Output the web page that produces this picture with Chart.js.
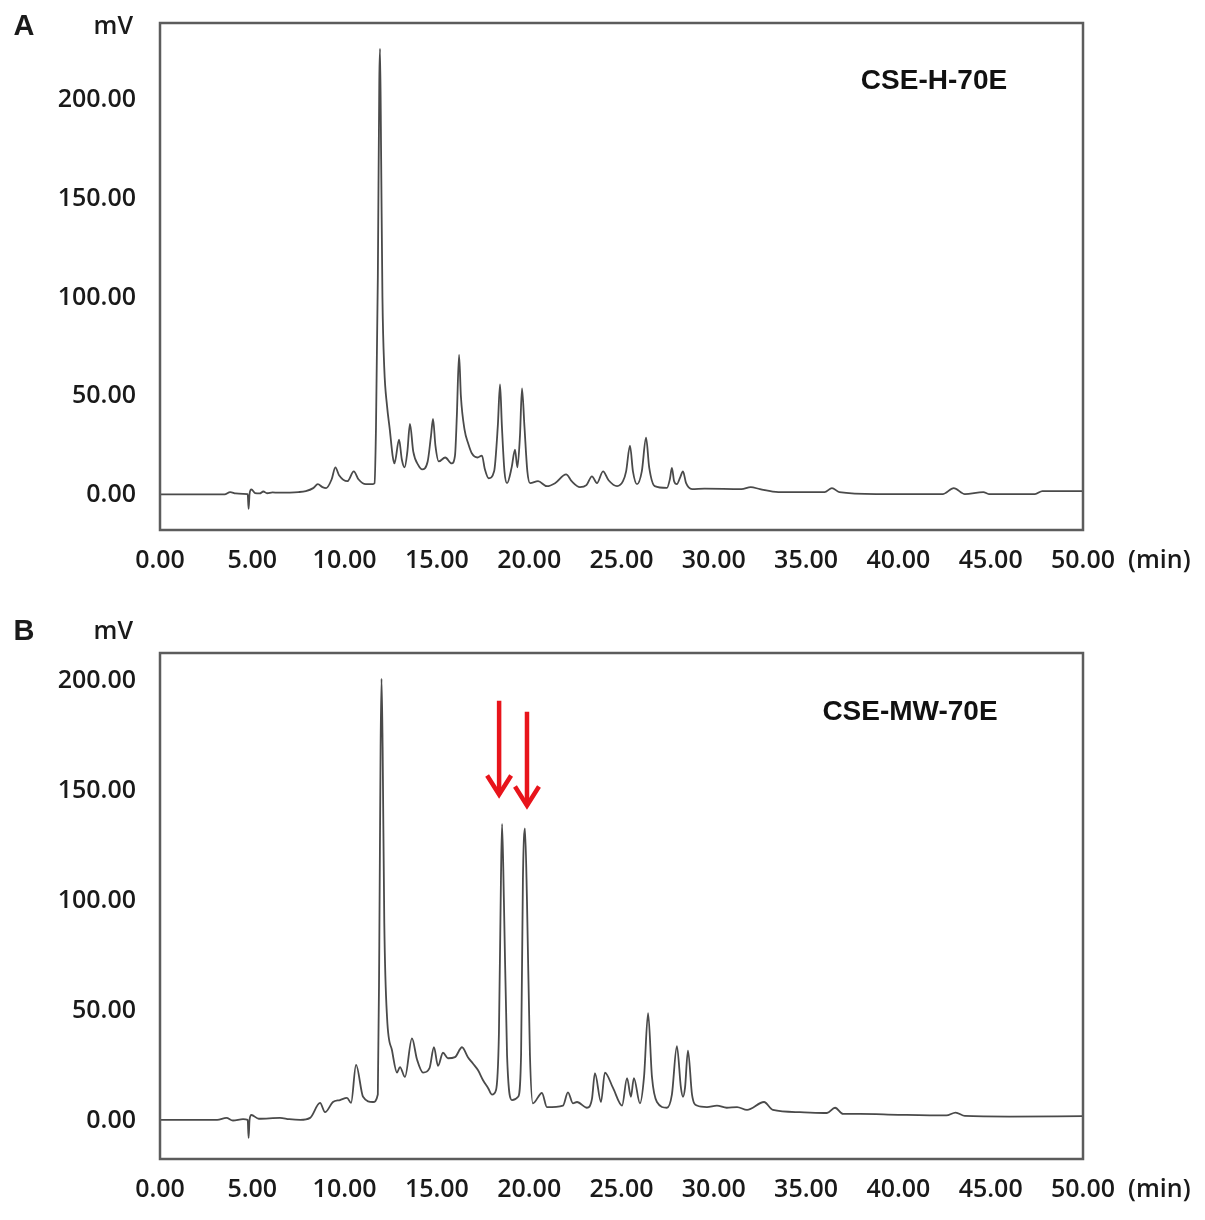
<!DOCTYPE html>
<html>
<head>
<meta charset="utf-8">
<script src="https://cdn.jsdelivr.net/npm/chart.js@4.4.0/dist/chart.umd.min.js"></script>
<style>
html, body { margin: 0; padding: 0; background: #fff; }
.panel { position: absolute; left: 0; width: 1205px; }
#panelA { top: 0; height: 600px; }
#panelB { top: 600px; height: 620px; }
</style>
</head>
<body>
<div class="panel" id="panelA"><canvas id="chartA"></canvas></div>
<div class="panel" id="panelB"><canvas id="chartB"></canvas></div>
<script>
// ejes
const ticksX = [0, 5, 10, 15, 20, 25, 30, 35, 40, 45, 50];
const ticksY = [0, 50, 100, 150, 200];

// A: CSE-H-70E (min, mV)
const tiemposA = [0, 3.5, 3.8, 4.1, 4.5, 4.75, 4.8, 4.85, 4.95, 5.15, 5.4, 5.6, 5.8, 6.1, 6.4, 7.5, 7.9, 8.3, 8.55, 8.8, 9.0, 9.3, 9.5, 9.7,
  10.15, 10.5, 10.75, 11.15, 11.5, 11.62, 11.7, 11.8, 11.88, 11.92, 11.98, 12.05, 12.15, 12.3, 12.45, 12.6, 12.7,
  12.95, 13.1, 13.25, 13.4, 13.54, 13.72, 14.0, 14.2, 14.5, 14.68, 14.79, 14.92, 15.1, 15.45, 15.8, 15.98, 16.08, 16.2, 16.3, 16.5, 16.7, 16.9,
  17.2, 17.44, 17.6, 17.8, 18.1, 18.3, 18.42, 18.52, 18.66, 18.8, 19.05, 19.23, 19.36, 19.5, 19.61, 19.74, 19.9, 20.05,
  20.48, 20.96, 21.4, 22.0, 22.3, 22.75, 23.1, 23.4, 23.67, 24.0, 24.3, 24.76, 25.08, 25.25, 25.46, 25.62, 25.84, 26.1, 26.33, 26.5, 26.8,
  27.46, 27.62, 27.73, 27.85, 28.0, 28.18, 28.33, 28.5, 28.82, 29.5, 31.5, 32.0, 32.5, 33.5, 36.0, 36.4, 36.8, 38.8, 42.4, 43.0, 43.6, 44.6, 44.9, 47.4, 47.8, 50];
const senalA = [0.3, 0.3, 1.5, 0.8, 0.6, 0.5, -7, 0.5, 2.8, 1.0, 0.8, 1.8, 0.9, 1.3, 1.2, 1.5, 2, 3.5, 5.5, 4, 3.5, 8, 14, 10,
  7, 12, 8, 5.5, 5.5, 6, 34, 110, 210, 226, 170, 100, 64, 45, 33, 20, 16,
  28, 18, 14, 22, 36, 22, 15, 13, 17, 30, 38.5, 25, 17, 19, 16, 20, 40, 71, 50, 33, 26, 21,
  19, 20, 13, 8.5, 12, 35, 56, 35, 12, 6, 14, 23, 14, 30, 54, 35, 12, 6,
  7, 4.5, 6, 10.5, 7, 4, 5, 9.5, 6, 12, 7.5, 4.5, 7, 12, 25, 12, 5.5, 12, 29, 14, 4.5,
  3.6, 8, 13.7, 7, 5.5, 9, 12, 6, 3, 3.2, 3, 4, 3, 1.5, 1.5, 3.5, 1.5, 0.5, 0.5, 3.5, 0.5, 1.5, 0.5, 0.5, 2, 2];

// B: CSE-MW-70E (min, mV)
const tiemposB = [0, 3.1, 3.6, 3.95, 4.5, 4.75, 4.8, 4.85, 4.95, 5.35, 6.5, 7.0, 7.6, 8.13, 8.67, 8.94, 9.37, 9.75, 10.13, 10.35, 10.62, 11.0, 11.54,
  11.8, 11.88, 11.95, 12.0, 12.06, 12.15, 12.3, 12.57, 12.84, 13.0, 13.27, 13.65, 13.92, 14.25, 14.6, 14.84, 15.06, 15.33, 15.6, 15.98, 16.36,
  16.68, 16.96, 17.23, 17.5, 17.77, 17.98, 18.2, 18.36, 18.47, 18.53, 18.63, 18.8, 19.07, 19.4, 19.56, 19.66, 19.77, 19.88, 20.04, 20.2,
  20.69, 20.96, 21.83, 22.1, 22.37, 22.59, 23.13, 23.4, 23.56, 23.89, 24.1, 24.54, 25.03, 25.3, 25.51, 25.67, 26.0, 26.22, 26.44, 26.65, 26.92,
  27.46, 27.73, 28.0, 28.22, 28.33, 28.44, 28.6, 28.82, 29.09, 29.63, 30.17, 30.7, 31.26, 31.8, 32.72, 33.2, 34.67, 36.13, 36.57, 37.0, 37.92,
  40, 42.6, 43.1, 43.6, 46, 50];
const senalB = [0.5, 0.5, 1.4, 0.2, 0.8, 0.5, -7.7, 0.5, 2.7, 1.0, 1.4, 0.8, 0.5, 1.4, 8.2, 4, 8.6, 9.5, 10.5, 8.2, 25.5, 11, 8.6,
  12, 80, 170, 201, 170, 90, 47, 32, 22, 24.5, 20, 37.5, 28, 22, 24, 33.5, 25, 31, 28.5, 29, 33.5,
  29, 26, 23, 18.5, 15, 12, 14, 40, 110, 135, 100, 30, 9.5, 11, 30, 110, 133, 100, 30, 8,
  12.7, 6.3, 7, 13, 8, 8.6, 6, 10, 21.7, 8.6, 22, 15, 7, 19.5, 11, 19.5, 8, 20, 49, 20, 8.6,
  6, 12, 34, 15, 11, 15, 32, 12, 7, 6.3, 7, 6, 6.3, 5, 8.6, 5, 4, 3.6, 6, 3.2, 3.2,
  2.8, 2.5, 3.8, 2.3, 2.0, 2.2];

// flechas rojas en B (min, mV)
const flechasX = [18.37, 19.88];
const flechasInicio = [191, 186];
const flechasPunta = [147, 142];

const fuenteEjes = { family: "'Open Sans', sans-serif", size: 25, weight: '600' };

const marcoPlugin = {
  id: 'marco',
  afterDatasetsDraw(chart) {
    const { ctx, chartArea: a } = chart;
    ctx.save();
    ctx.strokeStyle = '#5c5c5c';
    ctx.lineWidth = 2.5;
    ctx.strokeRect(a.left, a.top, a.right - a.left, a.bottom - a.top);
    ctx.restore();
  }
};

const textosPlugin = {
  id: 'textos',
  afterDraw(chart, args, opts) {
    const { ctx, chartArea: a } = chart;
    ctx.save();
    ctx.fillStyle = '#1a1a1a';
    ctx.textBaseline = 'middle';
    ctx.font = "bold 29px 'Liberation Sans', Arial, sans-serif";
    ctx.textAlign = 'center';
    ctx.fillText(opts.letra, 24, opts.letraY);
    ctx.font = "600 25px 'Open Sans', sans-serif";
    ctx.textAlign = 'right';
    ctx.fillText('mV', 133, opts.letraY);
    ctx.textAlign = 'left';
    ctx.fillText('(min)', 1128, a.bottom + 31);
    ctx.font = "bold 28px 'Liberation Sans', Arial, sans-serif";
    ctx.textAlign = 'center';
    ctx.fillStyle = '#111';
    ctx.fillText(opts.nombre, opts.nombreX, opts.nombreY);

    if (opts.flechas) {
      const x = chart.scales.x, y = chart.scales.y;
      ctx.strokeStyle = '#e8141b';
      ctx.lineWidth = 4.5;
      ctx.lineJoin = 'miter';
      flechasX.forEach((fx, i) => {
        const px = x.getPixelForValue(fx);
        const y0 = y.getPixelForValue(flechasInicio[i]);
        const y1 = y.getPixelForValue(flechasPunta[i]);
        ctx.beginPath();
        ctx.moveTo(px, y0);
        ctx.lineTo(px, y1 - 3);
        ctx.stroke();
        ctx.beginPath();
        ctx.moveTo(px - 12, y1 - 22);
        ctx.lineTo(px, y1 - 3);
        ctx.lineTo(px + 12, y1 - 22);
        ctx.stroke();
      });
    }
    ctx.restore();
  }
};

function crearCromatograma(id, tiempos, senal, cfg) {
  const datos = tiempos.map((t, i) => ({ x: t, y: senal[i] }));
  return new Chart(document.getElementById(id), {
    type: 'line',
    data: {
      datasets: [{
        data: datos,
        borderColor: '#4a4a4a',
        borderWidth: 1.8,
        pointRadius: 0,
        cubicInterpolationMode: 'monotone',
        fill: false
      }]
    },
    options: {
      responsive: true,
      maintainAspectRatio: false,
      animation: false,
      layout: { padding: { top: cfg.arriba, right: 122, left: 0, bottom: 0 } },
      plugins: {
        legend: { display: false },
        tooltip: { enabled: false },
        textos: cfg
      },
      scales: {
        x: {
          type: 'linear',
          min: 0,
          max: 50,
          afterBuildTicks: s => { s.ticks = ticksX.map(v => ({ value: v })); },
          afterFit: s => { s.height = cfg.altoX; s.paddingLeft = 0; s.paddingRight = 0; },
          ticks: { color: '#1a1a1a', font: fuenteEjes, padding: 16, maxRotation: 0, autoSkip: false,
            callback: v => Number(v).toFixed(2) },
          grid: { display: false, drawTicks: false },
          border: { display: false }
        },
        y: {
          min: cfg.minY,
          max: cfg.maxY,
          afterBuildTicks: s => { s.ticks = ticksY.map(v => ({ value: v })); },
          afterFit: s => { s.width = 160; s.paddingTop = 0; s.paddingBottom = 0; },
          ticks: { color: '#1a1a1a', font: fuenteEjes, padding: 24,
            callback: v => Number(v).toFixed(2) },
          grid: { display: false, drawTicks: false },
          border: { display: false }
        }
      }
    },
    plugins: [marcoPlugin, textosPlugin]
  });
}

crearCromatograma('chartA', tiemposA, senalA, {
  arriba: 23, altoX: 70, minY: -17.7, maxY: 239,
  letra: 'A', letraY: 27, nombre: 'CSE-H-70E', nombreX: 934, nombreY: 81, flechas: false
});
crearCromatograma('chartB', tiemposB, senalB, {
  arriba: 53, altoX: 61, minY: -17.3, maxY: 212.7,
  letra: 'B', letraY: 32, nombre: 'CSE-MW-70E', nombreX: 910, nombreY: 112, flechas: true
});
</script>
</body>
</html>
